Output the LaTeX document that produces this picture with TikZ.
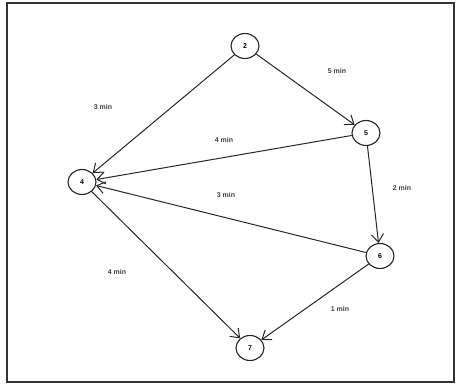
\documentclass[tikz,border=0pt]{standalone}
\usepackage{fontspec}
\setmainfont{Liberation Sans}
\usepackage{tikz}
\usetikzlibrary{arrows.meta,shapes.geometric,positioning}

\begin{document}
\begin{tikzpicture}[x=1pt, y=-1pt,
    event/.style={draw=black!85, ellipse, line width=1.1pt, minimum width=28pt,
                  minimum height=25pt, inner sep=0pt, font=\fontsize{7}{8}\selectfont\bfseries, fill=white},
    arrow/.style={-{Straight Barb[length=8pt,width=12pt]}, black!85, line width=1pt},
    dur/.style={font=\fontsize{7}{8}\selectfont\bfseries, text=black!75},
  ]
    \useasboundingbox (0,0) rectangle (456,385);
    \draw[line width=1.2pt, black!80] (7,3) rectangle (454,382);
    \node[event] (n2) at (245,46)  {2};
    \node[event] (n5) at (366,133) {5};
    \node[event] (n4) at (82,182)  {4};
    \node[event] (n6) at (380,256) {6};
    \node[event] (n7) at (250,348) {7};
    \draw[arrow] (n2) -- (n4);
    \draw[arrow] (n2) -- (n5);
    \draw[arrow] (n5) -- (n4);
    \draw[arrow] (n5) -- (n6);
    \draw[arrow] (n6) -- (n4);
    \draw[arrow] (n6) -- (n7);
    \draw[arrow] (n4) -- (n7);
    \node[dur] (l25) at (337,71)  {5 min};
    \node[dur] (l24) at (103,107) {3 min};
    \node[dur] (l54) at (224,140) {4 min};
    \node[dur] (l56) at (402,188) {2 min};
    \node[dur] (l64) at (226,195) {3 min};
    \node[dur] (l47) at (117,272) {4 min};
    \node[dur] (l67) at (340,309) {1 min};
  \end{tikzpicture}
\end{document}
